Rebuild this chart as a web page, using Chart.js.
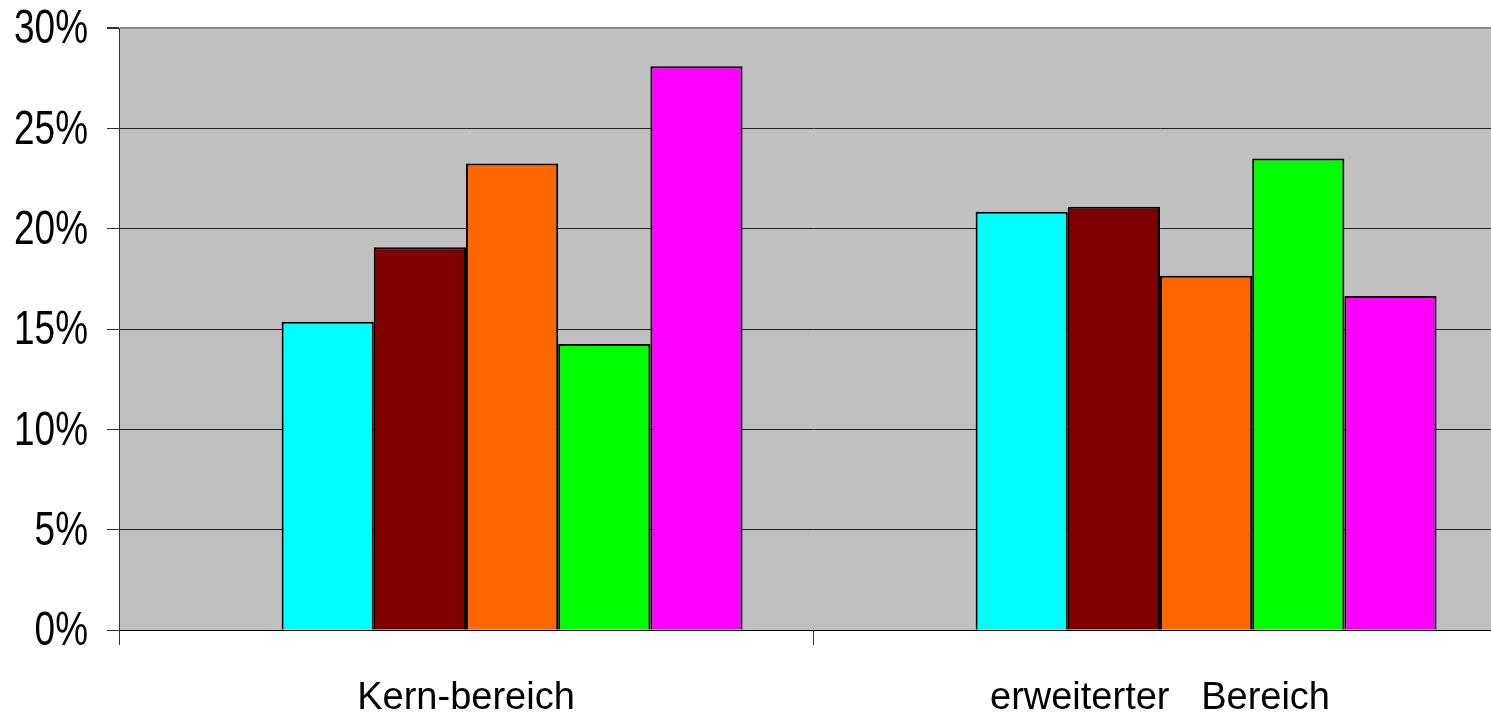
<!DOCTYPE html>
<html>
<head>
<meta charset="utf-8">
<script src="https://cdn.jsdelivr.net/npm/chart.js@4/dist/chart.umd.min.js"></script>
<style>
  html, body { margin: 0; padding: 0; background: #fff; overflow: hidden; }
  #wrap { width: 1520px; height: 725px; position: relative; }
</style>
</head>
<body>
<div id="wrap"><canvas id="chart"></canvas></div>
<script>
// Categories and per-series shares (percent)
const categories = ['Kern-bereich', 'erweiterter   Bereich'];
const seriesNames = ['', 'Reihe 1', 'Reihe 2', 'Reihe 3', 'Reihe 4', 'Reihe 5'];
const seriesEmpty   = [null, null];
const seriesCyan    = [15.36, 20.84];
const seriesMaroon  = [19.07, 21.09];
const seriesOrange  = [23.25, 17.65];
const seriesGreen   = [14.25, 23.50];
const seriesMagenta = [28.10, 16.64];
const yTicks = [0, 5, 10, 15, 20, 25, 30];

const seriesData = [seriesEmpty, seriesCyan, seriesMaroon, seriesOrange, seriesGreen, seriesMagenta];
const seriesColors = ['#C0C0C0', '#00FFFF', '#800000', '#FF6600', '#00FF00', '#FF00FF'];

const FONT = '"Liberation Sans", Arial, sans-serif';
const yLabel = v => v + '%';

// Grey plot area fill
const plotBackground = {
  id: 'plotBackground',
  beforeDraw(chart) {
    const { ctx, chartArea: a } = chart;
    ctx.save();
    ctx.fillStyle = '#C0C0C0';
    ctx.fillRect(a.left, a.top, a.right - a.left, a.bottom - a.top);
    ctx.restore();
  }
};

// Condensed percentage labels on the value axis
const narrowYLabels = {
  id: 'narrowYLabels',
  afterDraw(chart) {
    const { ctx } = chart;
    const y = chart.scales.y;
    ctx.save();
    ctx.fillStyle = '#000';
    ctx.font = '48px ' + FONT;
    ctx.textAlign = 'right';
    ctx.textBaseline = 'middle';
    y.ticks.forEach(t => {
      const py = y.getPixelForValue(t.value);
      ctx.save();
      ctx.translate(88, py + 2);
      ctx.scale(0.77, 1);
      ctx.fillText(yLabel(t.value), 0, 0);
      ctx.restore();
    });
    ctx.restore();
  }
};

new Chart(document.getElementById('chart'), {
  type: 'bar',
  data: {
    labels: categories,
    datasets: seriesData.map((d, i) => ({
      label: seriesNames[i],
      data: d,
      backgroundColor: seriesColors[i],
      borderColor: '#000',
      borderWidth: 2,
      categoryPercentage: 0.797,
      barPercentage: 1.0
    }))
  },
  options: {
    responsive: true,
    maintainAspectRatio: false,
    animation: false,
    layout: { padding: { top: 28, right: 13, left: 0, bottom: 0 } },
    plugins: { legend: { display: false }, tooltip: { enabled: false } },
    scales: {
      x: {
        grid: {
          offset: true,
          drawOnChartArea: false,
          drawTicks: true,
          tickLength: 15,
          color: '#333',
          lineWidth: 1
        },
        border: { display: true, color: '#000', width: 1 },
        ticks: {
          color: '#000',
          font: { family: FONT, size: 38 },
          padding: 31,
          maxRotation: 0
        },
        afterFit(scale) { scale.height = 95; }
      },
      y: {
        min: 0,
        max: 30,
        afterBuildTicks(scale) { scale.ticks = yTicks.map(v => ({ value: v })); },
        grid: {
          color: ctx => (ctx.tick && ctx.tick.value === 30 ? '#8a8a8a' : '#222'),
          lineWidth: ctx => (ctx.tick && ctx.tick.value === 30 ? 2 : 1),
          tickLength: 12,
          tickColor: '#333'
        },
        border: { display: true, color: '#333', width: 1 },
        ticks: { display: false },
        afterFit(scale) { scale.width = 119; }
      }
    }
  },
  plugins: [plotBackground, narrowYLabels]
});
</script>
</body>
</html>
